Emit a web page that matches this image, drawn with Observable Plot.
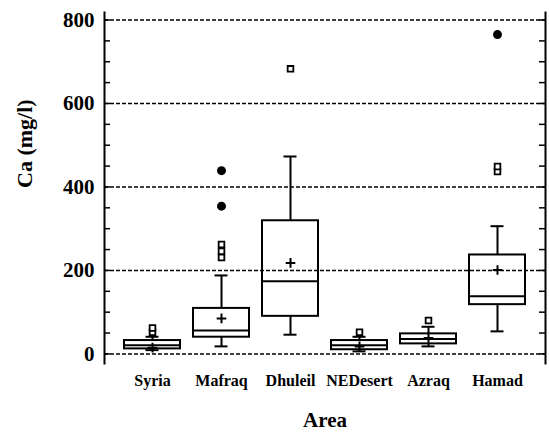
<!DOCTYPE html>
<html><head><meta charset="utf-8">
<script src="https://cdn.jsdelivr.net/npm/d3@7"></script>
<script src="https://cdn.jsdelivr.net/npm/@observablehq/plot@0.6"></script>
<style>body{margin:0;background:#fff} svg{display:block}</style>
</head><body><div id="chart"></div>
<script>
const areas = ["Syria", "Mafraq", "Dhuleil", "NEDesert", "Azraq", "Hamad"];
const q1 = [12, 40, 90, 10, 24, 118];
const median = [21, 56, 174, 21, 36, 138];
const q3 = [32, 109, 319, 32, 48, 237];
const whiskerLow = [9, 18, 46, 6, 18, 54];
const whiskerHigh = [41, 188, 473, 41, 65, 306];
const mean = [15, 85, 218, 18, 38, 201];

const mildArea = ["Syria", "Syria", "Mafraq", "Mafraq", "Mafraq", "Dhuleil", "NEDesert", "Azraq", "Hamad", "Hamad"];
const mildValue = [52, 62, 231, 246, 262, 683, 52, 80, 437, 449];
const extremeArea = ["Mafraq", "Mafraq", "Hamad"];
const extremeValue = [354, 439, 765];

const majorTicks = [0, 200, 400, 600, 800];
const minorTicks = [0, 50, 100, 150, 200, 250, 300, 350, 400, 450, 500, 550, 600, 650, 700, 750, 800];
const yTitle = "Ca (mg/l)";
const xTitle = "Area";

const stats = areas.map((area, i) => ({area, q1: q1[i], median: median[i], q3: q3[i], lo: whiskerLow[i], hi: whiskerHigh[i], mean: mean[i]}));
const mild = mildArea.map((area, i) => ({area, value: mildValue[i]}));
const extreme = extremeArea.map((area, i) => ({area, value: extremeValue[i]}));

const chart = Plot.plot({
  width: 549, height: 433,
  marginLeft: 104, marginRight: 4, marginTop: 12, marginBottom: 70,
  style: {fontFamily: "'Liberation Serif', 'Times New Roman', serif", background: "white", color: "black"},
  x: {type: "band", domain: areas, paddingInner: 0.19, paddingOuter: 0.27, axis: null},
  y: {domain: [-23, 818], axis: null},
  marks: [
    Plot.gridY(majorTicks, {stroke: "black", strokeOpacity: 1, strokeWidth: 1.5, strokeDasharray: "4,2"}),
    Plot.ruleY(minorTicks, {insetRight: 435, strokeWidth: 1.5}),
    Plot.ruleY(minorTicks, {insetLeft: 435, strokeWidth: 1.5}),
    Plot.axisY(majorTicks, {anchor: "left", tickSize: 0, tickPadding: 10, fontSize: 21, fontWeight: "bold", label: null}),
    Plot.axisX(areas, {anchor: "bottom", tickSize: 0, tickPadding: 11, fontSize: 16, fontWeight: "bold", label: null}),
    Plot.frame({anchor: "left", strokeWidth: 2}),
    Plot.frame({anchor: "right", strokeWidth: 2}),
    Plot.ruleX(stats, {x: "area", y1: "q3", y2: "hi", strokeWidth: 2}),
    Plot.ruleX(stats, {x: "area", y1: "lo", y2: "q1", strokeWidth: 2}),
    Plot.tickY(stats, {x: "area", y: "hi", strokeWidth: 2, insetLeft: 21.5, insetRight: 21.5}),
    Plot.tickY(stats, {x: "area", y: "lo", strokeWidth: 2, insetLeft: 21.5, insetRight: 21.5}),
    Plot.barY(stats, {x: "area", y1: "q1", y2: "q3", fill: "none", stroke: "black", strokeWidth: 2}),
    Plot.tickY(stats, {x: "area", y: "median", strokeWidth: 2}),
    Plot.dot(stats, {x: "area", y: "mean", symbol: "plus", r: 3.2, stroke: "black", strokeWidth: 2}),
    Plot.dot(mild, {x: "area", y: "value", symbol: "square", r: 3.2, stroke: "black", fill: "white", strokeWidth: 1.8}),
    Plot.dot(extreme, {x: "area", y: "value", r: 4.5, fill: "black", stroke: "none"}),
    Plot.text([yTitle], {frameAnchor: "left", dx: -80, rotate: -90, fontSize: 22, fontWeight: "bold"}),
    Plot.text([xTitle], {frameAnchor: "bottom", dy: 63, fontSize: 21, fontWeight: "bold"})
  ]
});
document.getElementById("chart").appendChild(chart);
</script>
</body></html>
